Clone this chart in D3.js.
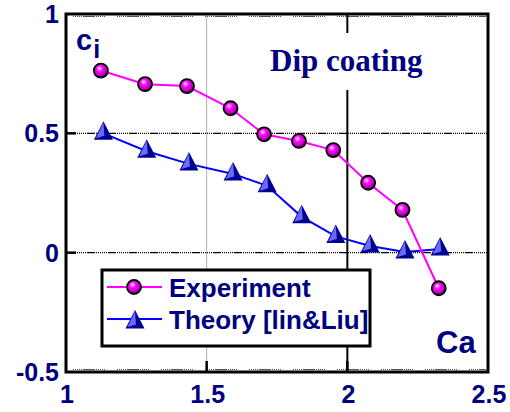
<!DOCTYPE html>
<html>
<head>
<meta charset="utf-8">
<script src="https://d3js.org/d3.v7.min.js"></script>
<style>
  body { margin: 0; background: #fff; }
  svg { display: block; }
  .tick-label { font-family: "Liberation Sans", Arial, sans-serif; font-weight: bold; font-size: 25px; fill: #000080; }
</style>
</head>
<body>
<div id="chart"></div>
<script>
// data
const expX = [1.124, 1.281, 1.430, 1.585, 1.704, 1.828, 1.950, 2.074, 2.196, 2.325];
const expY = [0.763, 0.706, 0.698, 0.605, 0.496, 0.468, 0.430, 0.293, 0.179, -0.149];
const thX = [1.133, 1.287, 1.437, 1.594, 1.715, 1.838, 1.959, 2.081, 2.205, 2.330];
const thY = [0.500, 0.425, 0.372, 0.330, 0.280, 0.150, 0.068, 0.028, 0.003, 0.015];
const xTicks = [1, 1.5, 2, 2.5];
const yTicks = [-0.5, 0, 0.5, 1];
const xTickText = ["1", "1.5", "2", "2.5"];
const yTickText = ["-0.5", "0", "0.5", "1"];
const seriesNames = ["Experiment", "Theory [lin&Liu]"];

const width = 510, height = 412;
const plotL = 66, plotR = 488, plotT = 14, plotB = 372;

const svg = d3.select("#chart").append("svg")
  .attr("width", width).attr("height", height);

const x = d3.scaleLinear().domain([1, 2.5]).range([plotL, plotR]);
const y = d3.scaleLinear().domain([-0.5, 1]).range([plotB, plotT]);

const defs = svg.append("defs");
const grad = defs.append("radialGradient").attr("id", "ball")
  .attr("cx", "40%").attr("cy", "35%").attr("r", "62%");
grad.append("stop").attr("offset", "0%").attr("stop-color", "#ffffff");
grad.append("stop").attr("offset", "14%").attr("stop-color", "#ff90ff");
grad.append("stop").attr("offset", "38%").attr("stop-color", "#ff00ff");
grad.append("stop").attr("offset", "80%").attr("stop-color", "#c000c0");
grad.append("stop").attr("offset", "100%").attr("stop-color", "#500050");

// minor dotted marks along top and bottom frame
[plotT + 2.5, plotB - 2.5].forEach(yy => {
  svg.append("line")
    .attr("x1", plotL + 7).attr("x2", plotR - 2)
    .attr("y1", yy).attr("y2", yy)
    .attr("stroke", "#555").attr("stroke-width", 1)
    .attr("stroke-dasharray", "1 1 1 1 1 1 1 1 1 1 12");
});

// vertical grid lines
svg.append("line")
  .attr("x1", x(1.5)).attr("x2", x(1.5)).attr("y1", plotT).attr("y2", plotB)
  .attr("stroke", "#b0b0b0").attr("stroke-width", 1);
svg.append("line")
  .attr("x1", x(2)).attr("x2", x(2)).attr("y1", plotT).attr("y2", plotB)
  .attr("stroke", "#000").attr("stroke-width", 2);

// horizontal grid lines
[0, 0.5].forEach(v => {
  svg.append("line")
    .attr("x1", plotL).attr("x2", plotR).attr("y1", y(v)).attr("y2", y(v))
    .attr("stroke", "#000").attr("stroke-width", 1.3)
    .attr("stroke-dasharray", "8 1 1 1 1 1 1 1 1 1 1 1 1 1");
  svg.append("line")
    .attr("x1", plotL).attr("x2", plotL + 10).attr("y1", y(v)).attr("y2", y(v))
    .attr("stroke", "#000").attr("stroke-width", 2.5);
});
[1.5, 2].forEach(v => {
  svg.append("line")
    .attr("x1", x(v)).attr("x2", x(v)).attr("y1", plotB).attr("y2", plotB - 11)
    .attr("stroke", "#000").attr("stroke-width", 2.5);
});

// "Dip coating" with white background covering grid
svg.append("rect").attr("x", 265).attr("y", 33).attr("width", 170).attr("height", 57).attr("fill", "#fff");
svg.append("text").attr("x", 270).attr("y", 71)
  .style("font-family", "'Liberation Serif', 'Times New Roman', serif")
  .style("font-weight", "bold").style("font-size", "31px").attr("fill", "#000080")
  .text("Dip coating");

// frame
svg.append("rect").attr("x", plotL).attr("y", plotT)
  .attr("width", plotR - plotL).attr("height", plotB - plotT)
  .attr("fill", "none").attr("stroke", "#000").attr("stroke-width", 3);

// tick labels
svg.selectAll(".ylab").data(yTicks).join("text")
  .attr("class", "tick-label").attr("x", 59).attr("y", d => y(d))
  .attr("dy", "0.36em").attr("text-anchor", "end")
  .text((d, i) => yTickText[i]);
svg.selectAll(".xlab").data(xTicks).join("text")
  .attr("class", "tick-label").attr("x", d => x(d) + 1).attr("y", 403)
  .attr("text-anchor", "middle")
  .text((d, i) => xTickText[i]);

// axis titles
const ci = svg.append("text").attr("x", 76).attr("y", 50)
  .style("font-family", "'Liberation Sans', Arial, sans-serif")
  .style("font-weight", "bold").attr("fill", "#000080");
ci.append("tspan").style("font-size", "29px").text("c");
ci.append("tspan").style("font-size", "25px").attr("dy", 8).attr("dx", 1).text("i");
svg.append("text").attr("x", 436).attr("y", 353)
  .style("font-family", "'Liberation Sans', Arial, sans-serif")
  .style("font-weight", "bold").style("font-size", "31px").attr("fill", "#000080")
  .text("Ca");

function ball(g, cx, cy) {
  g.append("circle").attr("cx", cx).attr("cy", cy).attr("r", 7)
    .attr("fill", "url(#ball)").attr("stroke", "#000").attr("stroke-width", 1.8);
}
function tri(g, cx, cy) {
  const w = 9.5, up = 12, dn = 6.5;
  g.append("path")
    .attr("d", `M${cx},${cy - up}L${cx + w},${cy + dn}L${cx - w},${cy + dn}Z`)
    .attr("fill", "#000090");
  g.append("path")
    .attr("d", `M${cx},${cy - up + 1}L${cx + 1},${cy + dn - 4}L${cx - w + 2},${cy + dn - 1.5}Z`)
    .attr("fill", "#6a6aff");
}

const line = d3.line().x(d => x(d[0])).y(d => y(d[1]));
const thPts = thX.map((v, i) => [v, thY[i]]);
const expPts = expX.map((v, i) => [v, expY[i]]);

svg.append("path").datum(thPts).attr("d", line)
  .attr("fill", "none").attr("stroke", "#0000ff").attr("stroke-width", 2);
const gTh = svg.append("g");
thPts.forEach(p => tri(gTh, x(p[0]), y(p[1])));

svg.append("path").datum(expPts).attr("d", line)
  .attr("fill", "none").attr("stroke", "#ff00ff").attr("stroke-width", 2);
const gExp = svg.append("g");
expPts.forEach(p => ball(gExp, x(p[0]), y(p[1])));

// legend
const lg = svg.append("g");
lg.append("rect").attr("x", 102).attr("y", 270).attr("width", 268).attr("height", 76)
  .attr("fill", "#fff").attr("stroke", "#000").attr("stroke-width", 3);
lg.append("line").attr("x1", 107).attr("x2", 162).attr("y1", 287).attr("y2", 287)
  .attr("stroke", "#ff00ff").attr("stroke-width", 2);
ball(lg, 134, 287);
lg.append("line").attr("x1", 107).attr("x2", 162).attr("y1", 319).attr("y2", 319)
  .attr("stroke", "#0000ff").attr("stroke-width", 2);
tri(lg, 135, 322);
lg.selectAll(".lt").data(seriesNames).join("text")
  .attr("x", 169).attr("y", (d, i) => 297 + i * 31.5)
  .style("font-family", "'Liberation Sans', Arial, sans-serif")
  .style("font-weight", "bold").style("font-size", "26px").attr("fill", "#000080")
  .text(d => d);
</script>
</body>
</html>
